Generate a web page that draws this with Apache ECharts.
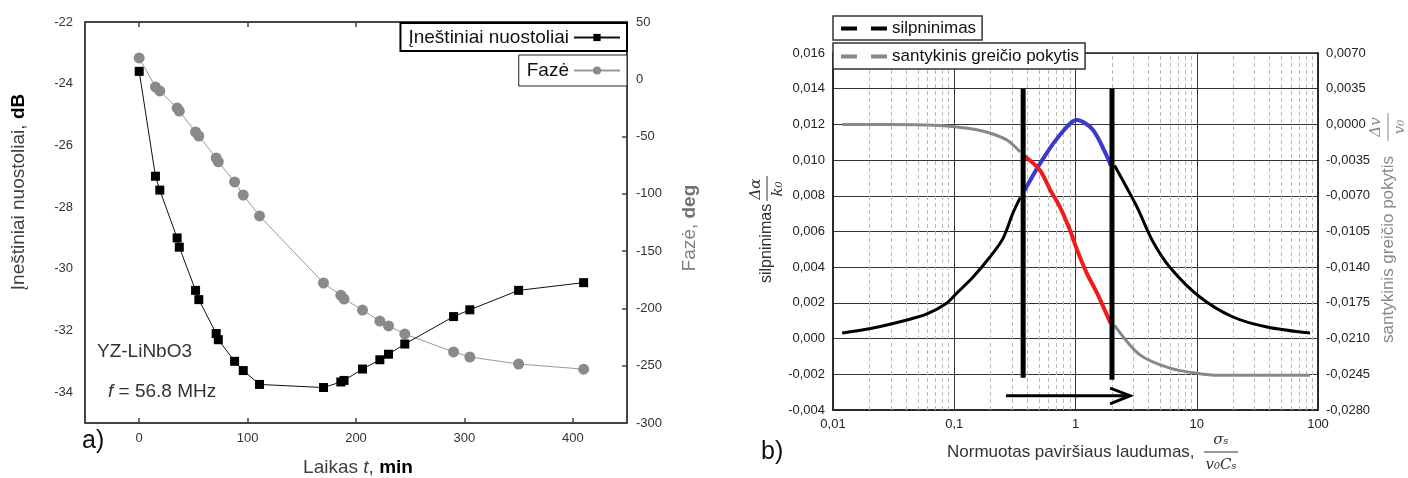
<!DOCTYPE html>
<html>
<head>
<meta charset="utf-8">
<script src="https://cdn.jsdelivr.net/npm/echarts@6/dist/echarts.min.js"></script>
<style>
  html, body { margin: 0; padding: 0; background: #fff; }
  #container { width: 1408px; height: 478px; }
</style>
</head>
<body>
<div id="container"></div>
<script>
// ---- a) duomenys ----
var timeMin = [0, 15, 19, 35, 37, 52, 55, 71, 73, 88, 96, 111, 170, 186, 189, 206, 222, 230, 245, 290, 305, 350, 410];
var lossDb = [-23.6, -27.0, -27.45, -29.0, -29.3, -30.7, -31.0, -32.1, -32.3, -33.0, -33.3, -33.75, -33.85, -33.67, -33.62, -33.25, -32.95, -32.77, -32.44, -31.55, -31.33, -30.7, -30.45];
var phaseDeg = [18.6, -6.7, -10.2, -25, -27.7, -46, -49.5, -68.7, -72, -89.6, -101, -119.3, -177.8, -188.5, -191.8, -201.4, -211, -215.3, -222.3, -238, -242.4, -248.5, -253];

// ---- b) duomenys ----
var sigmaAttLeft = [0.0119, 0.0214, 0.0407, 0.0596, 0.087, 0.105, 0.143, 0.197, 0.252, 0.305, 0.35];
var attLeft = [0.00031, 0.00059, 0.00104, 0.00138, 0.0020, 0.00255, 0.00345, 0.00457, 0.0056, 0.00704, 0.0079];
var sigmaAttMid = [0.38, 0.509, 0.703, 1.03, 1.39, 1.85, 1.95];
var attMid = [0.0083, 0.0098, 0.0112, 0.01225, 0.0117, 0.0101, 0.0097];
var sigmaAttRight = [2.1, 3.2, 4.3, 6.0, 10.6, 19.9, 37.9, 86];
var attRight = [0.0097, 0.0074, 0.0055, 0.0040, 0.00233, 0.00121, 0.00065, 0.00031];

var sigmaVelLeft = [0.0119, 0.03, 0.076, 0.105, 0.15, 0.197, 0.272, 0.35];
var velLeft = [0.0000, 0.0000, -0.0001, -0.00025, -0.0005, -0.00084, -0.00153, -0.0027];
var sigmaVelMid = [0.38, 0.509, 0.617, 0.745, 0.9, 1.03, 1.24, 1.5, 1.85, 1.95];
var velMid = [-0.0031, -0.0045, -0.0064, -0.0081, -0.01035, -0.0123, -0.0146, -0.0165, -0.0189, -0.0195];
var sigmaVelRight = [2.1, 3.4, 6.0, 10, 15, 86];
var velRight = [-0.0197, -0.0226, -0.0239, -0.0244, -0.0246, -0.0246];

var boundSigma = [0.37, 2.0];
var boundTop = 0.014;
var boundBottom = [-0.0022, -0.0023];
var arrowSigma = [0.267, 2.82];
var arrowLevel = -0.0032;
var headSigma = [1.93, 2.82, 1.93];
var headLevel = [-0.00277, -0.0032, -0.00366];

var FONT = '"Liberation Sans", Arial, sans-serif';
var SERIF = '"DejaVu Serif", "Liberation Serif", serif';

function pairs(xs, ys) {
  return xs.map(function (x, i) { return [x, ys[i]]; });
}

// papildomos punktyrines linijos log asiai (2..9 kiekviename dekade)
var minorLines = [];
for (var d = -2; d < 2; d++) {
  for (var k = 2; k <= 9; k++) {
    minorLines.push({ xAxis: k * Math.pow(10, d) });
  }
}

var dom = document.getElementById("container");
var myChart = echarts.init(dom);

var frame = { color: '#444', width: 2 };
var labelA = { color: '#333', fontSize: 13, fontFamily: FONT };
var labelB = { color: '#222', fontSize: 13, fontFamily: FONT };

var option = {
  animation: false,
  backgroundColor: '#fff',
  grid: [
    { left: 85, top: 22, width: 542, height: 401 },
    { left: 833, top: 53, width: 485, height: 357, show: true, borderColor: '#222', borderWidth: 1.5, backgroundColor: 'transparent' }
  ],
  xAxis: [
    {
      gridIndex: 0, type: 'value', min: -50, max: 450, minInterval: 100, maxInterval: 100, position: 'bottom',
      axisLine: { onZero: false, lineStyle: frame },
      axisTick: { inside: true, length: 5, lineStyle: { color: '#444', width: 1.5 } },
      axisLabel: Object.assign({ showMinLabel: false, showMaxLabel: false, margin: 9 }, labelA),
      splitLine: { show: false }
    },
    {
      gridIndex: 0, type: 'value', min: -50, max: 450, minInterval: 100, maxInterval: 100, position: 'top',
      axisLine: { onZero: false, lineStyle: frame },
      axisTick: { inside: true, length: 5, lineStyle: { color: '#444', width: 1.5 } },
      axisLabel: { show: false },
      splitLine: { show: false }
    },
    {
      gridIndex: 1, type: 'log', logBase: 10, min: 0.01, max: 100,
      axisLine: { onZero: false, lineStyle: { color: '#222', width: 1.5 } },
      axisTick: { show: false },
      axisLabel: Object.assign({
        margin: 8,
        formatter: function (v) {
          return v < 1 ? String(+v.toPrecision(2)).replace('.', ',') : String(Math.round(v));
        }
      }, labelB),
      splitLine: { show: true, lineStyle: { color: '#333', width: 1 } }
    }
  ],
  yAxis: [
    {
      gridIndex: 0, type: 'value', min: -35, max: -22, minInterval: 2, maxInterval: 2, position: 'left',
      axisLine: { show: true, onZero: false, lineStyle: frame },
      axisTick: { show: false },
      axisLabel: Object.assign({ showMinLabel: false, margin: 12 }, labelA),
      splitLine: { show: false }
    },
    {
      gridIndex: 0, type: 'value', min: -300, max: 50, interval: 50, position: 'right',
      axisLine: { show: true, onZero: false, lineStyle: frame },
      axisTick: { show: true, inside: true, length: 5, lineStyle: { color: '#444', width: 1.5 } },
      axisLabel: Object.assign({ margin: 9 }, labelA),
      splitLine: { show: false }
    },
    {
      gridIndex: 1, type: 'value', min: -0.004, max: 0.016, interval: 0.002, position: 'left',
      axisLine: { show: true, onZero: false, lineStyle: { color: '#222', width: 1.5 } },
      axisTick: { show: false },
      axisLabel: Object.assign({
        margin: 8,
        formatter: function (v) { return v.toFixed(3).replace('.', ','); }
      }, labelB),
      splitLine: { show: true, lineStyle: { color: '#333', width: 1 } }
    },
    {
      gridIndex: 1, type: 'value', min: -0.028, max: 0.007, interval: 0.0035, position: 'right',
      axisLine: { show: true, onZero: false, lineStyle: { color: '#222', width: 1.5 } },
      axisTick: { show: false },
      axisLabel: Object.assign({
        margin: 8,
        formatter: function (v) { return v.toFixed(4).replace('.', ','); }
      }, labelB),
      splitLine: { show: false }
    }
  ],
  legend: [
    {
      data: ['Įneštiniai nuostoliai'], right: 781, top: 23, align: 'right', selectedMode: false,
      borderColor: '#000', borderWidth: 2, backgroundColor: '#fff', padding: [5, 6, 4, 8],
      itemWidth: 46, itemHeight: 9,
      textStyle: { fontSize: 19, color: '#111', fontFamily: FONT }
    },
    {
      data: ['Fazė'], right: 781, top: 55, align: 'right', selectedMode: false,
      borderColor: '#222', borderWidth: 1, backgroundColor: '#fff', padding: [6, 6, 6, 8],
      itemWidth: 46, itemHeight: 10,
      textStyle: { fontSize: 19, color: '#111', fontFamily: FONT }
    },
    {
      data: ['silpninimas'], left: 833, top: 16, align: 'left', selectedMode: false,
      borderColor: '#333', borderWidth: 1.5, backgroundColor: '#fff', padding: [4, 6, 3, 6],
      itemWidth: 46, itemHeight: 12,
      itemStyle: { opacity: 0 },
      lineStyle: { type: [16, 14], width: 4, color: '#000' },
      textStyle: { fontSize: 17, color: '#111', fontFamily: FONT }
    },
    {
      data: ['santykinis greičio pokytis'], left: 833, top: 43, align: 'left', selectedMode: false,
      borderColor: '#333', borderWidth: 1.5, backgroundColor: '#fff', padding: [5, 6, 4, 6],
      itemWidth: 46, itemHeight: 12,
      itemStyle: { opacity: 0 },
      lineStyle: { type: [16, 14], width: 4, color: '#888' },
      textStyle: { fontSize: 17, color: '#111', fontFamily: FONT }
    }
  ],
  series: [
    {
      name: 'Įneštiniai nuostoliai', type: 'line', xAxisIndex: 0, yAxisIndex: 0,
      data: pairs(timeMin, lossDb), symbol: 'rect', symbolSize: 9,
      itemStyle: { color: '#000' }, lineStyle: { color: '#111', width: 1 }, z: 3
    },
    {
      name: 'Fazė', type: 'line', xAxisIndex: 0, yAxisIndex: 1,
      data: pairs(timeMin, phaseDeg), symbol: 'circle', symbolSize: 11,
      itemStyle: { color: '#8a8a8a' }, lineStyle: { color: '#999', width: 1 }, z: 2
    },
    {
      name: 'minor', type: 'line', xAxisIndex: 2, yAxisIndex: 2, data: [], z: 1, silent: true,
      markLine: {
        z: 1, silent: true, symbol: ['none', 'none'], label: { show: false },
        lineStyle: { type: [4, 3], color: '#bbb', width: 1 },
        data: minorLines
      }
    },
    {
      name: 'silpninimas', type: 'line', xAxisIndex: 2, yAxisIndex: 2, data: pairs(sigmaAttLeft, attLeft),
      showSymbol: false, symbol: 'none', smooth: 0.3, lineStyle: { color: '#000', width: 3 }, itemStyle: { color: '#000' }, z: 3
    },
    {
      name: 'silpninimas', type: 'line', xAxisIndex: 2, yAxisIndex: 2, data: pairs(sigmaAttRight, attRight),
      showSymbol: false, symbol: 'none', smooth: 0.3, lineStyle: { color: '#000', width: 3 }, itemStyle: { color: '#000' }, z: 3
    },
    {
      name: 'silpninimas (0,37–2)', type: 'line', xAxisIndex: 2, yAxisIndex: 2, data: pairs(sigmaAttMid, attMid),
      showSymbol: false, symbol: 'none', smooth: 0.3, lineStyle: { color: '#3a3ad0', width: 4 }, z: 3
    },
    {
      name: 'santykinis greičio pokytis', type: 'line', xAxisIndex: 2, yAxisIndex: 3, data: pairs(sigmaVelLeft, velLeft),
      showSymbol: false, symbol: 'none', smooth: 0.3, lineStyle: { color: '#888', width: 3 }, itemStyle: { color: '#888' }, z: 3
    },
    {
      name: 'santykinis greičio pokytis', type: 'line', xAxisIndex: 2, yAxisIndex: 3, data: pairs(sigmaVelRight, velRight),
      showSymbol: false, symbol: 'none', smooth: 0.3, lineStyle: { color: '#888', width: 3 }, itemStyle: { color: '#888' }, z: 3
    },
    {
      name: 'santykinis (0,37–2)', type: 'line', xAxisIndex: 2, yAxisIndex: 3, data: pairs(sigmaVelMid, velMid),
      showSymbol: false, symbol: 'none', smooth: 0.3, lineStyle: { color: '#ee1c1c', width: 4 }, z: 3
    },
    {
      name: 'riba1', type: 'line', xAxisIndex: 2, yAxisIndex: 2,
      data: [[boundSigma[0], boundTop], [boundSigma[0], boundBottom[0]]],
      showSymbol: false, symbol: 'none', lineStyle: { color: '#000', width: 5 }, z: 6
    },
    {
      name: 'riba2', type: 'line', xAxisIndex: 2, yAxisIndex: 2,
      data: [[boundSigma[1], boundTop], [boundSigma[1], boundBottom[1]]],
      showSymbol: false, symbol: 'none', lineStyle: { color: '#000', width: 5 }, z: 6
    },
    {
      name: 'rodykle', type: 'line', xAxisIndex: 2, yAxisIndex: 2,
      data: [[arrowSigma[0], arrowLevel], [arrowSigma[1], arrowLevel]],
      showSymbol: false, symbol: 'none', lineStyle: { color: '#000', width: 3 }, z: 6
    },
    {
      name: 'rodykle galas', type: 'line', xAxisIndex: 2, yAxisIndex: 2,
      data: pairs(headSigma, headLevel),
      showSymbol: false, symbol: 'none', lineStyle: { color: '#000', width: 3, join: 'miter' }, z: 6
    }
  ],
  graphic: [
    // a) asiu pavadinimai
    {
      type: 'text', x: 19, y: 192, rotation: Math.PI / 2,
      style: {
        text: '{n|Įneštiniai nuostoliai, }{b|dB}', align: 'center', verticalAlign: 'middle',
        rich: {
          n: { fontSize: 19, fontFamily: FONT, fill: '#404040' },
          b: { fontSize: 19, fontFamily: FONT, fontWeight: 'bold', fill: '#000' }
        }
      }
    },
    {
      type: 'text', x: 690, y: 228, rotation: Math.PI / 2,
      style: {
        text: '{n|Fazė, }{b|deg}', align: 'center', verticalAlign: 'middle',
        rich: {
          n: { fontSize: 19, fontFamily: FONT, fill: '#808080' },
          b: { fontSize: 19, fontFamily: FONT, fontWeight: 'bold', fill: '#707070' }
        }
      }
    },
    {
      type: 'text', x: 358, y: 468,
      style: {
        text: '{n|Laikas }{i|t}{n|, }{b|min}', align: 'center', verticalAlign: 'middle',
        rich: {
          n: { fontSize: 19, fontFamily: FONT, fill: '#404040' },
          i: { fontSize: 19, fontFamily: FONT, fontStyle: 'italic', fill: '#404040' },
          b: { fontSize: 19, fontFamily: FONT, fontWeight: 'bold', fill: '#000' }
        }
      }
    },
    {
      type: 'text', x: 97, y: 352,
      style: { text: 'YZ-LiNbO3', font: '19px ' + FONT, fill: '#333', align: 'left', verticalAlign: 'middle' }
    },
    {
      type: 'text', x: 108, y: 392,
      style: {
        text: '{i|f}{n| = 56.8 MHz}', align: 'left', verticalAlign: 'middle',
        rich: {
          n: { fontSize: 19, fontFamily: FONT, fill: '#333' },
          i: { fontSize: 19, fontFamily: FONT, fontStyle: 'italic', fill: '#333' }
        }
      }
    },
    {
      type: 'text', x: 82, y: 441,
      style: { text: 'a)', font: '25px ' + FONT, fill: '#111', align: 'left', verticalAlign: 'middle' }
    },
    {
      type: 'text', x: 761, y: 452,
      style: { text: 'b)', font: '25px ' + FONT, fill: '#111', align: 'left', verticalAlign: 'middle' }
    },
    // b) kaire asis
    {
      type: 'group', x: 767, y: 283, rotation: Math.PI / 2,
      children: [
        { type: 'text', x: 0, y: 0, style: { text: 'silpninimas', font: '16px ' + FONT, fill: '#333', align: 'left', verticalAlign: 'middle' } },
        { type: 'text', x: 94, y: -11, style: { text: 'Δα', font: 'italic 15px ' + SERIF, fill: '#333', align: 'center', verticalAlign: 'middle' } },
        { type: 'line', shape: { x1: 82, y1: 0, x2: 107, y2: 0 }, style: { stroke: '#333', lineWidth: 1 } },
        { type: 'text', x: 94, y: 11, style: { text: 'k₀', font: 'italic 15px ' + SERIF, fill: '#333', align: 'center', verticalAlign: 'middle' } }
      ]
    },
    // b) desine asis
    {
      type: 'group', x: 1388, y: 343, rotation: Math.PI / 2,
      children: [
        { type: 'text', x: 0, y: 0, style: { text: 'santykinis greičio pokytis', font: '17px ' + FONT, fill: '#888', align: 'left', verticalAlign: 'middle' } },
        { type: 'text', x: 216, y: -12, style: { text: 'Δv', font: 'italic 15px ' + SERIF, fill: '#888', align: 'center', verticalAlign: 'middle' } },
        { type: 'line', shape: { x1: 202, y1: 0, x2: 230, y2: 0 }, style: { stroke: '#888', lineWidth: 1 } },
        { type: 'text', x: 216, y: 12, style: { text: 'v₀', font: 'italic 15px ' + SERIF, fill: '#888', align: 'center', verticalAlign: 'middle' } }
      ]
    },
    // b) x asis
    {
      type: 'text', x: 947, y: 452,
      style: { text: 'Normuotas paviršiaus laudumas,', font: '17px ' + FONT, fill: '#333', align: 'left', verticalAlign: 'middle' }
    },
    {
      type: 'text', x: 1221, y: 440,
      style: { text: 'σₛ', font: 'italic 15px ' + SERIF, fill: '#333', align: 'center', verticalAlign: 'middle' }
    },
    { type: 'line', shape: { x1: 1204, y1: 452, x2: 1238, y2: 452 }, style: { stroke: '#333', lineWidth: 1 } },
    {
      type: 'text', x: 1221, y: 465,
      style: { text: 'v₀Cₛ', font: 'italic 15px ' + SERIF, fill: '#333', align: 'center', verticalAlign: 'middle' }
    }
  ]
};

if (option && typeof option === "object") {
  myChart.setOption(option);
}
</script>
</body>
</html>
